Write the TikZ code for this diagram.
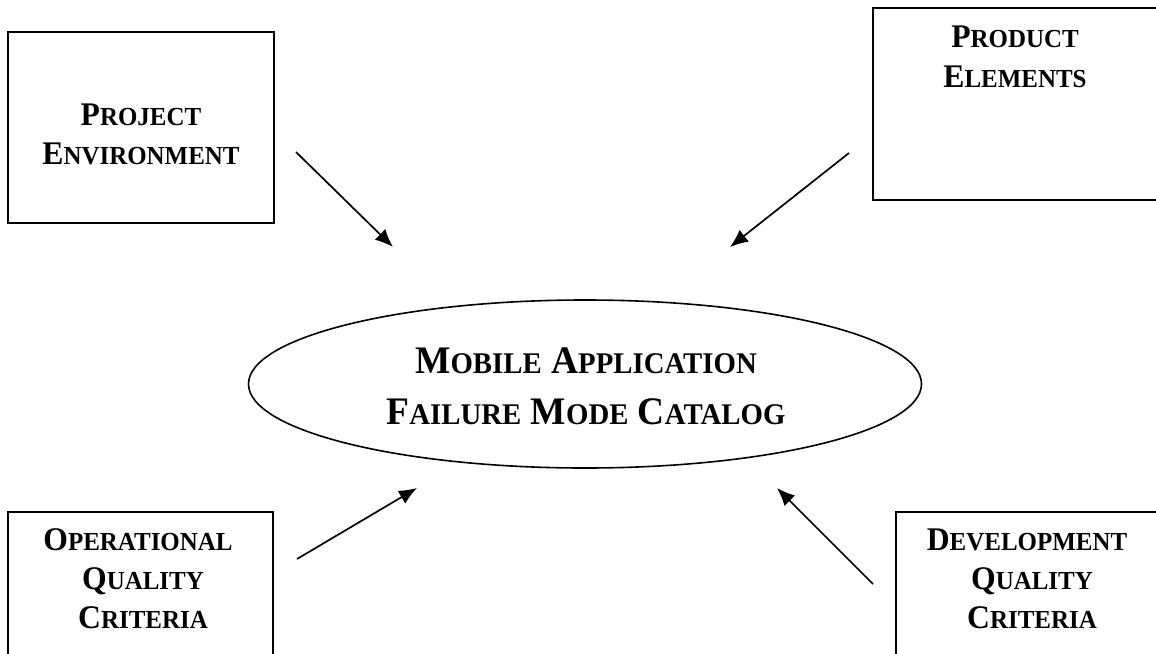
\documentclass[tikz,border=0pt]{standalone}
\usepackage{fontspec}
\setmainfont{Liberation Serif}
\newfontfamily\tnr[FakeStretch=0.96]{Liberation Serif}
\usetikzlibrary{shapes.geometric,arrows.meta}
\newcommand{\bw}[2]{{\fontsize{33}{38}\selectfont #1}{\fontsize{26}{38}\selectfont #2}}
\newcommand{\ew}[2]{{\fontsize{39}{46}\selectfont #1}{\fontsize{30}{46}\selectfont #2}}
\tikzset{
  box/.style={draw=black, line width=2pt, rectangle, inner sep=0pt},
  oval/.style={draw=black, line width=1.6pt, ellipse, inner sep=0pt, minimum width=673pt, minimum height=168pt},
  lbl/.style={anchor=base, inner sep=0pt, font=\tnr\bfseries\fontsize{33}{38}\selectfont},
  elbl/.style={anchor=base, inner sep=0pt, font=\tnr\bfseries\fontsize{39}{46}\selectfont},
  arr/.style={line width=1.7pt, -{Latex[length=18pt,width=15pt]}}
}
\begin{document}
\begin{tikzpicture}[x=1pt,y=-1pt]
\useasboundingbox (0,0) rectangle (1156,653);
\fill[white] (0,0) rectangle (1156,653);
% boxes
\node[box, minimum width=266pt, minimum height=191pt] (pe) at (141,127.5) {};
\node[box, minimum width=297pt, minimum height=192pt] (pr) at (1021.5,104) {};
\node[box, minimum width=265pt, minimum height=168pt] (oq) at (140.5,596) {};
\node[box, minimum width=274pt, minimum height=168pt] (dq) at (1033,596) {};
% ellipse
\node[oval] (cat) at (585,384) {};
% texts
\node[lbl] (pe1) at (141,125) {\bw{P}{ROJECT}};
\node[lbl] (pe2) at (141,164) {\bw{E}{NVIRONMENT}};
\node[lbl] (pr1) at (1015,47) {\bw{P}{RODUCT}};
\node[lbl] (pr2) at (1015,87) {\bw{E}{LEMENTS}};
\node[lbl] (oq1) at (138,550) {\bw{O}{PERATIONAL}};
\node[lbl] (oq2) at (143,589) {\bw{Q}{UALITY}};
\node[lbl] (oq3) at (143,628) {\bw{C}{RITERIA}};
\node[lbl] (dq1) at (1027,550) {\bw{D}{EVELOPMENT}};
\node[lbl] (dq2) at (1032,589) {\bw{Q}{UALITY}};
\node[lbl] (dq3) at (1032,628) {\bw{C}{RITERIA}};
\node[elbl] (c1) at (586,373) {\ew{M}{OBILE} \ew{A}{PPLICATION}};
\node[elbl] (c2) at (586,424) {\ew{F}{AILURE} \ew{M}{ODE} \ew{C}{ATALOG}};
% arrows
\coordinate (a1s) at (296,152); \coordinate (a1e) at (393,247);
\coordinate (a2s) at (849,153); \coordinate (a2e) at (730,247);
\coordinate (a3s) at (297,559); \coordinate (a3e) at (417,488);
\coordinate (a4s) at (873,584); \coordinate (a4e) at (777,488);
\draw[arr] (a1s) -- (a1e);
\draw[arr] (a2s) -- (a2e);
\draw[arr] (a3s) -- (a3e);
\draw[arr] (a4s) -- (a4e);
\end{tikzpicture}
\end{document}
